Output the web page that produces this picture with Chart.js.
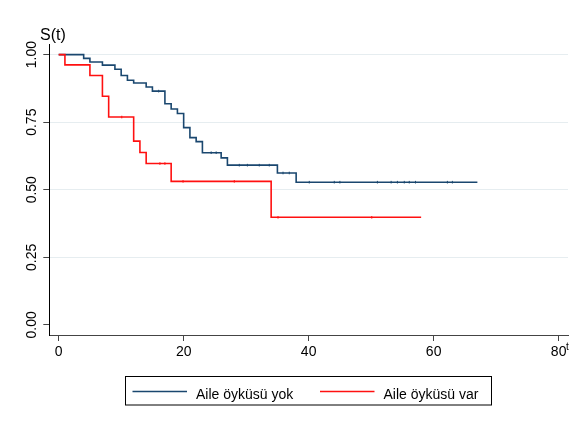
<!DOCTYPE html>
<html><head><meta charset="utf-8">
<script src="https://cdn.jsdelivr.net/npm/chart.js@4.4.1/dist/chart.umd.min.js"></script>
<style>html,body{margin:0;padding:0;background:#fff}#wrap{width:573px;height:421px;position:relative}</style>
</head><body><div id="wrap"><canvas id="c" width="573" height="421"></canvas></div>
<script>
const seriesLabels = ['Aile öyküsü yok', 'Aile öyküsü var'];
const timesNo = [0, 4, 5, 7, 9, 10, 11, 12, 14, 15, 17, 18, 19, 20, 21, 22, 23, 26, 27, 35, 38, 67];
const survNo  = [1, 0.986, 0.973, 0.961, 0.946, 0.923, 0.905, 0.895, 0.880, 0.865, 0.818, 0.799, 0.782, 0.730, 0.693, 0.678, 0.637, 0.618, 0.591, 0.562, 0.528, 0.528];
const timesYes = [0, 1, 5, 7, 8, 12, 13, 14, 18, 34, 58];
const survYes  = [1, 0.962, 0.923, 0.846, 0.769, 0.680, 0.638, 0.597, 0.531, 0.398, 0.398];
const censorNo  = [16, 24.4, 25.2, 28.9, 30.2, 32.1, 33.7, 35.9, 36.9, 40.1, 44.1, 45, 51, 53.2, 54.2, 55.3, 56.1, 57.1, 62.2, 63];
const censorYes = [10.1, 16.2, 17, 19.9, 28.1, 35.1, 50.1];
const xTicks = [0, 20, 40, 60, 80];
const yTicks = [0, 0.25, 0.5, 0.75, 1];
const yTickLabels = ['0.00', '0.25', '0.50', '0.75', '1.00'];
const yTitle = 'S(t)';
const xTitle = 't';

const colNo = '#1a476f', colYes = '#ff1010';
const FONT = '"Liberation Sans", Arial, sans-serif';

function survAt(times, surv, t) {
  let v = surv[0];
  for (let i = 0; i < times.length; i++) { if (times[i] <= t) v = surv[i]; }
  return v;
}
const pts = (ts, ss) => ts.map((t, i) => ({x: t, y: ss[i]}));

const overlay = {
  id: 'overlay',
  afterDraw(chart) {
    const ctx = chart.ctx, ys = chart.scales.y;
    ctx.save();
    ctx.fillStyle = '#000';
    ctx.font = '14px ' + FONT;
    yTicks.forEach((v, i) => {
      const py = ys.getPixelForValue(v);
      ctx.save();
      ctx.translate(32, py);
      ctx.rotate(-Math.PI / 2);
      ctx.textAlign = 'center';
      ctx.textBaseline = 'middle';
      ctx.fillText(yTickLabels[i], 0, 0);
      ctx.restore();
    });
    ctx.textAlign = 'left';
    ctx.textBaseline = 'alphabetic';
    ctx.font = '16px ' + FONT;
    ctx.fillText(yTitle, 40, 40);
    ctx.font = '10px ' + FONT;
    ctx.fillText(xTitle, 566, 350);
    // legend
    ctx.strokeStyle = '#000';
    ctx.lineWidth = 1;
    ctx.strokeRect(125.5, 376.5, 366, 28.5);
    const items = [{c: colNo, x: 132.5, t: seriesLabels[0]}, {c: colYes, x: 320, t: seriesLabels[1]}];
    ctx.font = '14px ' + FONT;
    items.forEach(it => {
      ctx.strokeStyle = it.c;
      ctx.lineWidth = 1.6;
      ctx.beginPath();
      ctx.moveTo(it.x, 391.5);
      ctx.lineTo(it.x + 54.5, 391.5);
      ctx.stroke();
      ctx.fillStyle = '#000';
      ctx.fillText(it.t, it.x + 63.5, 398.5);
    });
    ctx.restore();
  }
};

new Chart(document.getElementById('c'), {
  type: 'line',
  data: {
    datasets: [
      {label: seriesLabels[0], data: pts(timesNo, survNo), borderColor: colNo, borderWidth: 1.6, stepped: 'before', pointRadius: 0, fill: false, order: 2},
      {label: seriesLabels[1], data: pts(timesYes, survYes), borderColor: colYes, borderWidth: 1.6, stepped: 'before', pointRadius: 0, fill: false, order: 0},
      {label: 'cNo', data: censorNo.map(t => ({x: t, y: survAt(timesNo, survNo, t)})), showLine: false, pointStyle: 'line', rotation: 90, pointRadius: 1.3, borderColor: colNo, borderWidth: 1, order: 3},
      {label: 'cYes', data: censorYes.map(t => ({x: t, y: survAt(timesYes, survYes, t)})), showLine: false, pointStyle: 'line', rotation: 90, pointRadius: 1.3, borderColor: colYes, borderWidth: 1, order: 1}
    ]
  },
  options: {
    responsive: false,
    animation: false,
    devicePixelRatio: 1,
    layout: {padding: {left: 43.3, top: 44.5, right: 3.7, bottom: 57.2}},
    plugins: {legend: {display: false}, tooltip: {enabled: false}},
    scales: {
      x: {
        type: 'linear', min: -1.5, max: 81.5,
        afterBuildTicks: s => { s.ticks = xTicks.map(v => ({value: v})); },
        grid: {drawOnChartArea: false, drawTicks: true, tickLength: 6, tickColor: '#444', tickWidth: 1},
        border: {display: true, color: '#444', width: 1},
        ticks: {color: '#000', font: {family: FONT, size: 14}, padding: 3, maxRotation: 0, autoSkip: false, callback: v => String(v)}
      },
      y: {
        type: 'linear', min: -0.0375, max: 1.0375,
        afterBuildTicks: s => { s.ticks = yTicks.map(v => ({value: v})); },
        grid: {color: c => (c.tick && c.tick.value === 0) ? 'rgba(0,0,0,0)' : '#e6edf0', lineWidth: 1, drawTicks: true, tickLength: 6, tickColor: '#444'},
        border: {display: true, color: '#000', width: 1},
        ticks: {display: false}
      }
    }
  },
  plugins: [overlay]
});
</script>
</body></html>
